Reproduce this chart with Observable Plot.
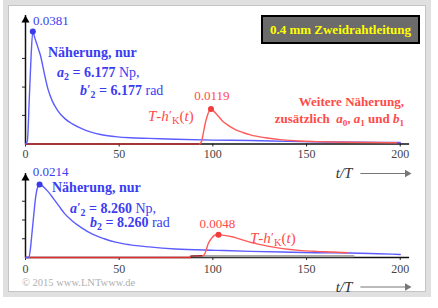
<!DOCTYPE html>
<html><head><meta charset="utf-8">
<script src="https://cdn.jsdelivr.net/npm/d3@7"></script>
<script src="https://cdn.jsdelivr.net/npm/@observablehq/plot@0.6"></script>
<style>
body{margin:0;background:#fff;}
#wrap{position:relative;width:438px;height:308px;overflow:hidden;background:#fff;font-family:"Liberation Serif",serif;}
#frame{position:absolute;left:3px;top:0;width:428px;height:297px;box-sizing:border-box;border:5px solid #e0e0e0;box-shadow:inset 0 0 0 1px #c4c4c4;}
.plot{position:absolute;left:0;}
.t{position:absolute;white-space:nowrap;line-height:15px;}
.blue{color:#3c3cf2;font-weight:bold;font-size:14px;}
.red{color:#ff4a4a;font-weight:bold;font-size:13px;}
.nb{font-weight:normal;}
sub{font-size:0.7em;vertical-align:-0.3em;line-height:0;}
.pr{font-style:normal;font-size:0.85em;vertical-align:0.15em;margin-left:0.02em;}
.fn{color:#ff4a4a;font-style:italic;font-size:15px;}
#legend{position:absolute;left:261px;top:15px;width:159px;height:29px;box-sizing:border-box;background:#6b6b6b;border:2px solid #000;color:#ffff00;font-weight:bold;font-size:13px;text-align:center;line-height:25px;}
#copy{position:absolute;left:22px;top:278px;color:#b0b0b0;font-size:10.5px;line-height:10px;}
</style></head>
<body>
<div id="wrap">
  <div id="frame"></div>
  <div id="top" class="plot" style="top:0"></div>
  <div id="bot" class="plot" style="top:150px"></div>
  <div id="legend">0.4 mm Zweidrahtleitung</div>
  <div class="t blue" style="left:48px;top:45px">Näherung, nur</div>
  <div class="t blue" style="left:57px;top:65px"><i>a</i><sub>2</sub> = 6.177 <span class="nb">Np,</span></div>
  <div class="t blue" style="left:80px;top:82px"><i>b</i><span class="pr">′</span><sub>2</sub> = 6.177 <span class="nb">rad</span></div>
  <div class="t red" style="right:34px;top:94px">Weitere Näherung,</div>
  <div class="t red" style="right:34px;top:111px">zusätzlich&nbsp; <i>a</i><sub>0</sub>, <i>a</i><sub>1</sub> und <i>b</i><sub>1</sub></div>
  <div class="t fn" style="left:148px;top:108px">T<span style="font-style:normal">-</span>h<span class="pr">′</span><sub style="font-style:normal">K</sub><span style="font-style:normal">(</span>t<span style="font-style:normal">)</span></div>
  <div class="t blue" style="left:52px;top:180px">Näherung, nur</div>
  <div class="t blue" style="left:70px;top:200px"><i>a</i><span class="pr">′</span><sub>2</sub> = 8.260 <span class="nb">Np,</span></div>
  <div class="t blue" style="left:90px;top:215px"><i>b</i><sub>2</sub> = 8.260 <span class="nb">rad</span></div>
  <div class="t fn" style="left:250px;top:230px">T<span style="font-style:normal">-</span>h<span class="pr">′</span><sub style="font-style:normal">K</sub><span style="font-style:normal">(</span>t<span style="font-style:normal">)</span></div>
  <div id="copy">© 2015 www.LNTwww.de</div>
</div>
<script>
// ---------- data ----------
const xTicks = [0, 50, 100, 150, 200];
const topYTicks = [0.0097, 0.0193, 0.029];
const botYTicks = [0.0055, 0.011, 0.0165];

// upper panel: approximation with a2, b2' only (blue)
const topBlueT = [0, 1, 2, 3, 3.9, 5, 6, 7, 8, 10, 12, 14.2, 17, 21, 25, 30, 35, 40, 48, 56, 66, 80, 100, 120, 140, 160, 180, 200];
const topBlueV = [0, 0.001, 0.015, 0.030, 0.0381, 0.0359, 0.034, 0.032, 0.030, 0.024, 0.0186, 0.0147, 0.0115, 0.0086, 0.0068, 0.0052, 0.0040, 0.0032, 0.0025, 0.0021, 0.0019, 0.0016, 0.0013, 0.0012, 0.0009, 0.0007, 0.0006, 0.0005];
// upper panel: further approximation (red)
const topRedT = [93, 94, 95, 96, 97, 98, 99, 100, 102, 105, 108, 112, 116, 120, 128, 137, 146, 155, 170, 185, 198];
const topRedV = [0, 0.001, 0.004, 0.0072, 0.0095, 0.0112, 0.0119, 0.0114, 0.0101, 0.0079, 0.0064, 0.0049, 0.0039, 0.0031, 0.0021, 0.0014, 0.0010, 0.0008, 0.0006, 0.0005, 0.0004];
const topRedBaseT = [0, 93];
const topPeakT = [3.9, 99];
const topPeakV = [0.0381, 0.0119];
const topPeakLabel = ["0.0381", "0.0119"];

// lower panel
const botBlueT = [0, 1.8, 2.5, 3.5, 4.5, 5.3, 6.3, 7.5, 9, 10.5, 12.4, 15, 17.7, 21, 24.8, 30, 35.5, 42, 48, 56, 66, 80, 102, 120, 137, 155, 173, 200];
const botBlueV = [0, 0, 0.002, 0.0074, 0.013, 0.0172, 0.0203, 0.0214, 0.021, 0.0202, 0.0191, 0.0172, 0.0152, 0.0128, 0.0108, 0.0087, 0.0069, 0.0055, 0.0045, 0.0037, 0.0031, 0.0025, 0.0021, 0.0018, 0.0016, 0.0014, 0.0013, 0.0009];
const botRedT = [94.5, 95.5, 96.5, 97.5, 99, 100.2, 101.5, 103, 106, 110.8, 115, 119.7, 128, 137.4, 146, 155, 164, 172];
const botRedV = [0.0005, 0.0009, 0.0023, 0.0040, 0.0054, 0.0062, 0.0066, 0.0067, 0.0065, 0.0060, 0.0053, 0.0045, 0.0035, 0.0026, 0.0021, 0.0018, 0.0016, 0.0014];
const botRedBaseT = [0, 88];
const botDarkT = [88, 94.5];
const botDarkV = [0.0004, 0.0005];
const botGrayT = [89, 175];
const botGrayV = [0.0004, 0.0004];
const botPeakT = [7.5, 103];
const botPeakV = [0.0214, 0.0067];
const botPeakLabel = ["0.0214", "0.0048"];

const axisLabel = "t/T";
const arrowT = [179, 206];

// ---------- helpers ----------
const zip = (T, V) => T.map((t, i) => ({t, v: V[i]}));
const BLUE = "#5c5cff", RED = "#ff5a5a", DARKRED = "#c03030";

function panel(o) {
  const peaks = o.peakT.map((t, i) => ({t, v: o.peakV[i], s: o.peakLabel[i]}));
  return Plot.plot({
    width: 438, height: o.height,
    marginLeft: 25, marginRight: 28.9, marginTop: o.mt, marginBottom: o.mb,
    x: {domain: [0, 205]},
    y: {domain: [0, o.yMax]},
    style: {fontFamily: "Liberation Serif", fontSize: "12px", color: "#444", background: "transparent", overflow: "visible"},
    marks: [
      Plot.axisX({ticks: xTicks, tickSize: 3, tickPadding: o.pad, stroke: "#222", fill: "#444", label: null, fontSize: 12}),
      Plot.axisY({ticks: o.yTicks, tickSize: 3, tickFormat: () => "", label: null, stroke: "#222"}),
      Plot.ruleY([{y: 0, a: 0, b: 205}], {y: "y", x1: "a", x2: "b", stroke: "#111", strokeWidth: 1.5}),
      Plot.ruleX([{x: 0, a: 0, b: o.yMax}], {x: "x", y1: "a", y2: "b", stroke: "#111", strokeWidth: 1.5}),
      Plot.dot([{x: 0, y: o.yMax}], {x: "x", y: "y", symbol: "triangle", r: 3, fill: "#000", stroke: "none", dy: 4.7}),
      ...(o.gray ? [Plot.line(o.gray, {x: "t", y: "v", stroke: "#a8a8a8", strokeWidth: 2.2})] : []),
      Plot.line(o.base, {x: "t", y: "v", stroke: o.baseColor, strokeWidth: 1.6}),
      ...(o.dark ? [Plot.line(o.dark, {x: "t", y: "v", stroke: "#a02020", strokeWidth: 1.4})] : []),
      Plot.line(o.blue, {x: "t", y: "v", stroke: BLUE, strokeWidth: 1.4, curve: "monotone-x"}),
      Plot.line(o.red, {x: "t", y: "v", stroke: RED, strokeWidth: 1.4, curve: "monotone-x"}),
      Plot.dot([peaks[0]], {x: "t", y: "v", r: 3, fill: "#3a3ae8", stroke: "none"}),
      Plot.dot([peaks[1]], {x: "t", y: "v", r: 3, fill: "#f03c3c", stroke: "none"}),
      Plot.text([peaks[0]], {x: "t", y: "v", text: "s", fill: "#3c3cf2", fontSize: 13, dx: o.l0[0], dy: o.l0[1]}),
      Plot.text([peaks[1]], {x: "t", y: "v", text: "s", fill: "#ff4a4a", fontSize: 13, dx: o.l1[0], dy: o.l1[1]}),
      Plot.text([{x: 170, y: 0, s: axisLabel}], {x: "x", y: "y", text: "s", fontStyle: "italic", fontSize: 15, fill: "#333", dy: 29.5}),
      Plot.ruleY([{y: 0, a: arrowT[0], b: arrowT[1] - 3}], {y: "y", x1: "a", x2: "b", stroke: "#777", strokeWidth: 1.2, dy: 29.5}),
      Plot.dot([{x: arrowT[1], y: 0}], {x: "x", y: "y", symbol: "triangle", r: 2.8, rotate: 90, fill: "#777", stroke: "none", dx: -4.3, dy: 29.5})
    ]
  });
}

document.getElementById("top").appendChild(panel({
  height: 180, mt: 15, mb: 36.5, yMax: 0.04356, yTicks: topYTicks, pad: 2,
  blue: zip(topBlueT, topBlueV), red: zip(topRedT, topRedV),
  base: topRedBaseT.map(t => ({t, v: 0})), baseColor: DARKRED,
  peakT: topPeakT, peakV: topPeakV, peakLabel: topPeakLabel,
  l0: [18, -10.5], l1: [1, -13.5]
}));
document.getElementById("bot").appendChild(panel({
  height: 150, mt: 23, mb: 43, yMax: 0.02463, yTicks: botYTicks, pad: 4,
  blue: zip(botBlueT, botBlueV), red: zip(botRedT, botRedV),
  base: botRedBaseT.map(t => ({t, v: 0})), baseColor: "#e03030",
  dark: zip(botDarkT, botDarkV), gray: zip(botGrayT, botGrayV),
  peakT: botPeakT, peakV: botPeakV, peakLabel: botPeakLabel,
  l0: [11, -12.5], l1: [-1, -11]
}));
</script>
</body></html>
